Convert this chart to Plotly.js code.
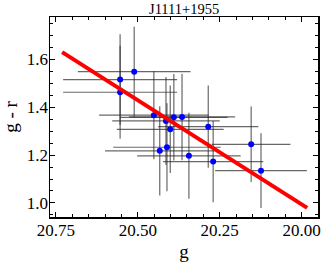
<!DOCTYPE html>
<html>
<head>
<meta charset="utf-8">
<script src="https://cdn.plot.ly/plotly-3.0.1.min.js"></script>
<style>html,body{margin:0;padding:0;background:#fff}#chart{width:327px;height:266px}</style>
</head>
<body>
<div id="chart"></div>
<script>
const titleText = "J1111+1955";
const gMag = [20.554, 20.511, 20.554, 20.451, 20.414, 20.390, 20.365, 20.401, 20.285, 20.433, 20.411, 20.344, 20.270, 20.154, 20.124];
const gErr = [0.174, 0.172, 0.174, 0.167, 0.164, 0.164, 0.162, 0.163, 0.153, 0.167, 0.164, 0.158, 0.153, 0.12, 0.14];
const grColor = [1.516, 1.549, 1.463, 1.367, 1.343, 1.358, 1.360, 1.308, 1.319, 1.218, 1.233, 1.197, 1.173, 1.245, 1.135];
const grErr = [0.190, 0.188, 0.195, 0.184, 0.184, 0.181, 0.181, 0.183, 0.172, 0.187, 0.184, 0.180, 0.170, 0.158, 0.156];
const fitG = [20.731, 19.983];
const fitGR = [1.631, 0.979];
const xTickVals = [20.75, 20.5, 20.25, 20.0];
const xTickText = ["20.75", "20.50", "20.25", "20.00"];
const yTickVals = [1.0, 1.2, 1.4, 1.6];
const yTickText = ["1.0", "1.2", "1.4", "1.6"];

const font = "Liberation Serif";
const traces = [
  {
    x: gMag, y: grColor, type: "scatter", mode: "markers",
    marker: {color: "#0000ff", size: 6},
    error_x: {type: "data", array: gErr, visible: true, color: "rgba(40,40,40,0.7)", thickness: 1.2, width: 0},
    error_y: {type: "data", array: grErr, visible: true, color: "rgba(40,40,40,0.7)", thickness: 1.2, width: 0},
    hoverinfo: "skip"
  },
  {
    x: fitG, y: fitGR, type: "scatter", mode: "lines",
    line: {color: "#ff0000", width: 4}, hoverinfo: "skip"
  }
];
const axisCommon = {
  showgrid: false, zeroline: false, showline: true, linecolor: "#000", linewidth: 1.5,
  mirror: "ticks", ticks: "inside", ticklen: 5, tickcolor: "#000", tickwidth: 1,
  tickfont: {family: font, size: 17, color: "#000"}
};
const layout = {
  width: 327, height: 266,
  margin: {l: 50, r: 9, t: 17, b: 49, pad: 0},
  paper_bgcolor: "#fff", plot_bgcolor: "#fff",
  showlegend: false,
  font: {family: font, color: "#000"},
  title: {text: titleText, font: {family: font, size: 14.5, color: "#000"}, x: 0.563, xanchor: "center", y: 0.985, yanchor: "top"},
  xaxis: Object.assign({}, axisCommon, {
    range: [20.768, 19.950], tickvals: xTickVals, ticktext: xTickText,
    ticklabelstandoff: -3,
    minor: {dtick: 0.05, ticks: "inside", ticklen: 3, tickcolor: "#000", showgrid: false},
    title: {text: "g", font: {family: font, size: 19, color: "#000"}, standoff: 6}
  }),
  yaxis: Object.assign({}, axisCommon, {
    range: [0.941, 1.778], tickvals: yTickVals, ticktext: yTickText,
    ticklabelstandoff: -3,
    minor: {dtick: 0.05, ticks: "inside", ticklen: 3, tickcolor: "#000", showgrid: false},
    title: {text: "g - r", font: {family: font, size: 19, color: "#000"}, standoff: 6}
  })
};
Plotly.newPlot("chart", traces, layout, {staticPlot: true, displayModeBar: false});
</script>
</body>
</html>
